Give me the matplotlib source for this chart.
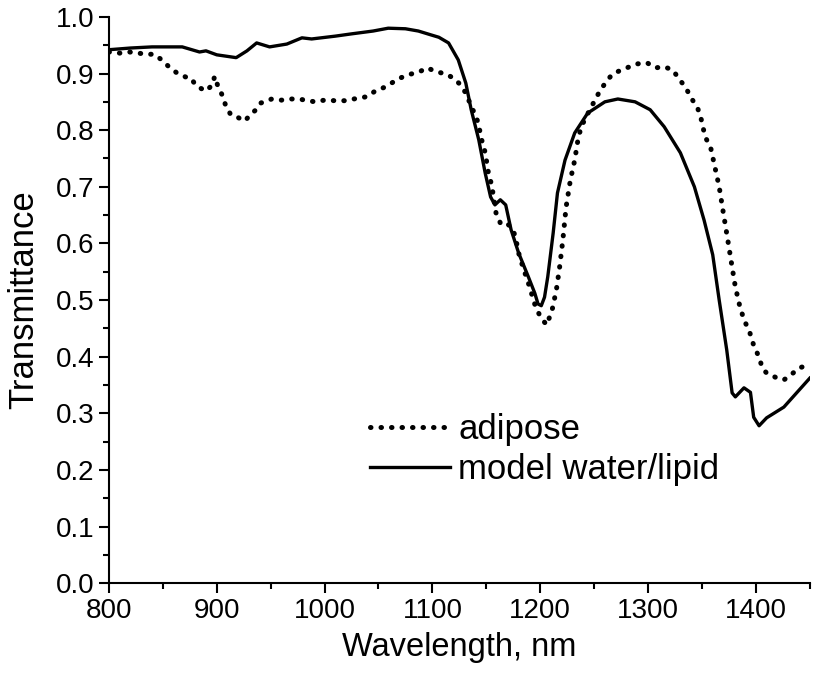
import matplotlib
matplotlib.use("Agg")
import matplotlib.pyplot as plt
from matplotlib.ticker import MultipleLocator

plt.rcParams['font.family'] = ['Liberation Sans', 'DejaVu Sans']

# model water/lipid (solid line)
model_nm = [800, 820, 840, 868, 884, 890, 900, 918, 928, 937, 949, 965, 979, 988,
            1010, 1025, 1045, 1059, 1075, 1087, 1099, 1106, 1115, 1124, 1131, 1136,
            1143, 1149, 1154, 1158, 1163, 1168, 1173, 1180, 1189, 1195, 1198, 1201,
            1204, 1207, 1212, 1216, 1223, 1232, 1244, 1260, 1272, 1288, 1302, 1315,
            1330, 1343, 1352, 1360, 1366, 1373, 1378, 1381, 1389, 1395, 1398, 1403,
            1410, 1426, 1450]
model_t = [0.942, 0.945, 0.947, 0.947, 0.938, 0.940, 0.933, 0.928, 0.940, 0.954,
           0.947, 0.952, 0.963, 0.961, 0.966, 0.970, 0.975, 0.980, 0.979, 0.975,
           0.968, 0.964, 0.954, 0.924, 0.883, 0.836, 0.783, 0.724, 0.682, 0.668,
           0.677, 0.668, 0.624, 0.583, 0.541, 0.512, 0.493, 0.490, 0.505, 0.541,
           0.618, 0.689, 0.747, 0.795, 0.830, 0.850, 0.855, 0.850, 0.836, 0.806,
           0.760, 0.700, 0.641, 0.580, 0.500, 0.412, 0.336, 0.329, 0.345, 0.337,
           0.293, 0.278, 0.292, 0.311, 0.362]

# adipose (dotted line)
adipose_nm = [800, 810, 819, 827, 835, 842, 849, 855, 863, 871, 876, 881, 890, 896,
              898, 901, 905, 908, 913, 919, 926, 931, 937, 941, 951, 960, 968, 976,
              985, 991, 1000, 1010, 1019, 1027, 1039, 1047, 1056, 1062, 1070, 1080,
              1088, 1095, 1104, 1113, 1121, 1127, 1132, 1136, 1140, 1143, 1145, 1149,
              1152, 1155, 1159, 1163, 1168, 1175, 1178, 1180, 1184, 1189, 1193, 1196,
              1201, 1206, 1211, 1215, 1218, 1221, 1224, 1228, 1232, 1235, 1238, 1246,
              1255, 1261, 1267, 1275, 1283, 1290, 1299, 1307, 1315, 1323, 1329, 1335,
              1340, 1346, 1349, 1353, 1358, 1362, 1366, 1369, 1372, 1375, 1378, 1381,
              1385, 1389, 1394, 1398, 1403, 1406, 1410, 1420, 1426, 1432, 1440, 1445,
              1450]
adipose_t = [0.938, 0.936, 0.938, 0.936, 0.934, 0.934, 0.924, 0.913, 0.901, 0.894,
             0.892, 0.878, 0.869, 0.880, 0.895, 0.878, 0.862, 0.845, 0.827, 0.823,
             0.816, 0.827, 0.837, 0.848, 0.855, 0.853, 0.855, 0.855, 0.852, 0.850,
             0.853, 0.852, 0.852, 0.855, 0.859, 0.869, 0.876, 0.883, 0.892, 0.899,
             0.903, 0.910, 0.903, 0.899, 0.890, 0.878, 0.862, 0.841, 0.827, 0.809,
             0.788, 0.760, 0.724, 0.703, 0.654, 0.636, 0.638, 0.624, 0.602, 0.583,
             0.558, 0.530, 0.505, 0.486, 0.468, 0.456, 0.482, 0.518, 0.558, 0.606,
             0.664, 0.712, 0.747, 0.783, 0.806, 0.836, 0.868, 0.885, 0.899, 0.906,
             0.912, 0.917, 0.919, 0.910, 0.912, 0.906, 0.890, 0.875, 0.857, 0.839,
             0.822, 0.788, 0.770, 0.735, 0.700, 0.664, 0.629, 0.594, 0.558, 0.523,
             0.490, 0.465, 0.445, 0.420, 0.399, 0.380, 0.371, 0.362, 0.359, 0.367,
             0.380, 0.383, 0.385]

fig = plt.figure(figsize=(8.13, 6.75), dpi=100)
ax = fig.add_axes([0.134, 0.136, 0.862, 0.839])

ax.plot(adipose_nm, adipose_t, color='black', linewidth=3.6,
        linestyle=(0, (0.1, 2.0)), dash_capstyle='round', label='adipose')
ax.plot(model_nm, model_t, color='black', linewidth=2.4, label='model water/lipid')

ax.set_xlim(800, 1450)
ax.set_ylim(0, 1.0)
ax.xaxis.set_major_locator(MultipleLocator(100))
ax.xaxis.set_minor_locator(MultipleLocator(50))
ax.yaxis.set_major_locator(MultipleLocator(0.1))
ax.yaxis.set_minor_locator(MultipleLocator(0.05))
ax.yaxis.set_major_formatter(plt.FormatStrFormatter('%.1f'))

for side in ['top', 'right']:
    ax.spines[side].set_visible(False)
for side in ['left', 'bottom']:
    ax.spines[side].set_linewidth(1.5)
ax.tick_params(which='major', direction='out', length=7, width=1.5, labelsize=20)
ax.tick_params(which='minor', direction='out', length=4, width=1.5)

ax.set_xlabel('Wavelength, nm', fontsize=23.5, labelpad=6)
ax.set_ylabel('Transmittance', fontsize=25, labelpad=11)

ax.legend(loc='upper left', bbox_to_anchor=(0.372, 0.300), frameon=False,
          fontsize=25, handlelength=2.3, handletextpad=0.25, borderpad=0,
          borderaxespad=0, labelspacing=0.2)

plt.savefig('out.png', dpi=100)
